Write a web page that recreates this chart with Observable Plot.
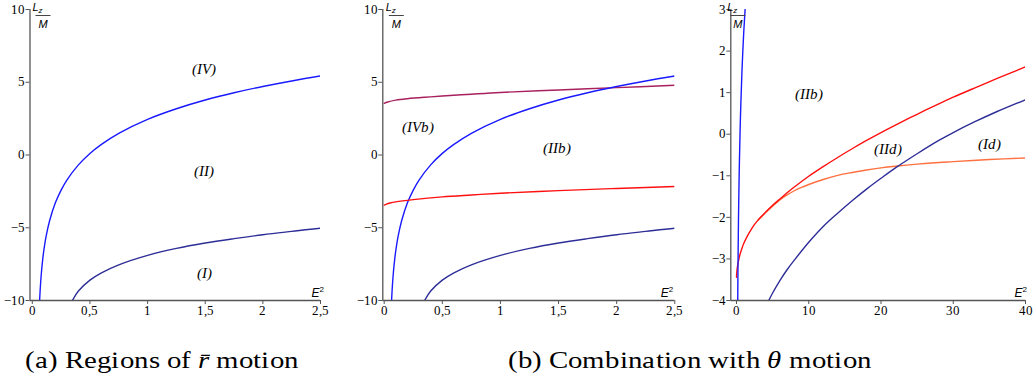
<!DOCTYPE html>
<html><head><meta charset="utf-8">
<script src="https://cdn.jsdelivr.net/npm/d3@7"></script>
<script src="https://cdn.jsdelivr.net/npm/@observablehq/plot@0.6"></script>
<style>
@font-face{font-family:"CapSerif";src:local("Liberation Serif"),local("LiberationSerif"),local("LiberationSerif-Regular");font-style:normal;}
@font-face{font-family:"CapSerif";src:local("Liberation Serif Italic"),local("LiberationSerif-Italic");font-style:italic;}
body{margin:0;background:#fff;}
#wrap{position:relative;width:1034px;height:383px;overflow:hidden;background:#fff;}
.cap{position:absolute;top:348px;font-size:24px;line-height:24px;white-space:nowrap;transform-origin:0 0;transform:scaleX(1.2);color:#000;font-family:CapSerif,"Liberation Serif","Noto Serif",serif;}
</style></head><body>
<div id="wrap">
  <div class="cap" style="left:25px">(a) Regions of <i>r&#772;</i> motion</div>
  <div class="cap" style="left:508px">(b) Combination with <i>θ</i> motion</div>
</div>
<script>
// ---- data ----
const blueE2 = [0.0635, 0.07, 0.08, 0.09, 0.1, 0.12, 0.15, 0.2, 0.25, 0.3, 0.4, 0.5, 0.6, 0.75, 1.0, 1.25, 1.5, 1.75, 2.0, 2.25, 2.5];
const blueLz = [-10, -9.05, -7.99, -7.19, -6.56, -5.58, -4.52, -3.29, -2.41, -1.72, -0.68, 0.11, 0.73, 1.49, 2.45, 3.18, 3.78, 4.28, 4.71, 5.09, 5.43];

const navyE2 = [0.348, 0.4, 0.5, 0.6, 0.75, 1.0, 1.25, 1.5, 1.75, 2.0, 2.25, 2.5, 3, 3.5, 4, 4.47, 5, 6, 7, 8, 10, 12, 14, 16, 18, 20, 22, 25, 28, 30, 33, 36, 40];
const navyLz = [-10, -9.35, -8.6, -8.1, -7.55, -6.9, -6.42, -6.05, -5.75, -5.48, -5.25, -5.03, -4.7, -4.45, -4.2, -4.0, -3.82, -3.52, -3.26, -3.03, -2.6, -2.22, -1.9, -1.6, -1.32, -1.06, -0.81, -0.47, -0.15, 0.04, 0.3, 0.54, 0.83];

const redE2 = [0, 0.02, 0.05, 0.1, 0.25, 0.5, 0.75, 1.0, 1.5, 2.0, 2.5, 3, 4, 5, 6, 7, 8, 10, 12, 14, 16, 18, 20, 22, 25, 28, 30, 33, 36, 40];
const redLz = [-3.44, -3.37, -3.3, -3.22, -3.07, -2.88, -2.75, -2.63, -2.45, -2.3, -2.17, -2.06, -1.88, -1.71, -1.56, -1.41, -1.27, -1.01, -0.78, -0.56, -0.35, -0.15, 0.04, 0.22, 0.48, 0.73, 0.89, 1.115, 1.335, 1.62];

const purpleE2 = [0, 0.03, 0.1, 0.2, 0.35, 0.5, 0.75, 1.0, 1.5, 2.0, 2.5];
const purpleLz = [3.55, 3.64, 3.77, 3.87, 3.97, 4.05, 4.18, 4.3, 4.47, 4.63, 4.79];

const orangeE2 = [3, 4, 5, 6, 7, 8, 9, 10, 12, 14, 16, 18, 20, 22, 25, 28, 30, 35, 40];
const orangeLz = [-2.07, -1.89, -1.73, -1.58, -1.46, -1.36, -1.28, -1.21, -1.09, -0.99, -0.92, -0.86, -0.81, -0.77, -0.72, -0.68, -0.66, -0.61, -0.57];

const ticksA_x = [0, 0.5, 1, 1.5, 2, 2.5];
const ticksA_y = [-10, -5, 0, 5, 10];
const ticksC_x = [0, 10, 20, 30, 40];
const ticksC_y = [-4, -3, -2, -1, 0, 1, 2, 3];

const labels1 = {text: ["(IV)", "(II)", "(I)"], x: [1.49, 1.49, 1.49], y: [5.88, -1.13, -8.14]};
const labels2 = {text: ["(IVb)", "(IIb)"], x: [0.295, 1.49], y: [1.89, 0.45]};
const labels3 = {text: ["(IIb)", "(IId)", "(Id)"], x: [9.97, 20.9, 35.0], y: [0.97, -0.355, -0.23]};

const colBlue = "#1a1aff", colNavy = "#2e2e98", colRed = "#ff1010", colPurple = "#a8205e", colOrange = "#ff7040";

// ---- drawing ----
const serif = "CapSerif, Liberation Serif, Noto Serif, serif";
const sans = "Liberation Sans, Arimo, sans-serif";
const axisColor = "#555";
const fmtX = d => String(d).replace(".", ",");
const fmtY = d => d < 0 ? "\u2212" + Math.abs(d) : String(d);

function lzMark(dx) {
  return (index, scales, values, dims) => {
    const g = d3.create("svg:g").attr("font-family", sans).attr("font-style", "italic").attr("fill", "black");
    const x0 = dims.marginLeft + dx;
    const t = g.append("text").attr("x", x0 + 2).attr("y", 10.5).attr("font-size", 11);
    t.append("tspan").text("L");
    t.append("tspan").attr("font-size", 8).attr("dy", 2.5).text("z");
    g.append("line").attr("x1", x0).attr("x2", x0 + 15).attr("y1", 15.5).attr("y2", 15.5).attr("stroke", "#444").attr("stroke-width", 1);
    g.append("text").attr("x", x0 + 7.5).attr("y", 28).attr("text-anchor", "middle").attr("font-size", 11).text("M");
    return g.node();
  };
}
function e2Mark(dx) {
  return (index, scales, values, dims) => {
    const g = d3.create("svg:g").attr("font-family", sans).attr("fill", "black");
    const xr = dims.width - dims.marginRight + dx;
    const t = g.append("text").attr("x", xr).attr("y", 297).attr("text-anchor", "end").attr("font-size", 12);
    t.append("tspan").attr("font-style", "italic").text("E");
    t.append("tspan").attr("font-size", 8).attr("dy", -5).text("2");
    return g.node();
  };
}

function makePanel(p) {
  const marks = [
    Plot.ruleX([p.xDomain[0]], {stroke: axisColor, strokeWidth: 1.3}),
    Plot.ruleY([p.yDomain[0]], {stroke: axisColor, strokeWidth: 1.3}),
    Plot.axisX(p.xTicks, {anchor: "bottom", tickSize: 4, tickPadding: 1, fontSize: 13, fontFamily: serif, stroke: axisColor, tickFormat: fmtX, label: null}),
    Plot.axisY(p.yTicks, {anchor: "left", tickSize: 4, tickPadding: 1, fontSize: 13, fontFamily: serif, stroke: axisColor, tickFormat: fmtY, label: null}),
    ...p.curves.map(c => Plot.line(c.y, {x: c.x, y: c.y, stroke: c.color, strokeWidth: 1.4, curve: "catmull-rom", clip: true})),
    Plot.text(p.labels.text, {x: p.labels.x, y: p.labels.y, text: p.labels.text, fontFamily: serif, fontStyle: "italic", fontSize: 15, fill: "black"}),
    lzMark(p.lzDx),
    e2Mark(p.e2Dx)
  ];
  const svg = Plot.plot({
    width: p.width, height: 325,
    marginLeft: p.marginLeft, marginRight: p.marginRight, marginTop: 9, marginBottom: 25,
    x: {domain: p.xDomain}, y: {domain: p.yDomain},
    style: {background: "transparent", overflow: "visible", color: "black", fontFamily: serif},
    marks
  });
  svg.style.position = "absolute";
  svg.style.left = p.left + "px";
  svg.style.top = "0px";
  document.getElementById("wrap").append(svg);
}

makePanel({
  left: 0, width: 340, marginLeft: 29.5, marginRight: 20,
  xDomain: [-0.02, 2.5], yDomain: [-10, 10], xTicks: ticksA_x, yTicks: ticksA_y,
  curves: [{x: blueE2, y: blueLz, color: colBlue}, {x: navyE2, y: navyLz, color: colNavy}],
  labels: labels1, lzDx: 6, e2Dx: 4
});
makePanel({
  left: 340, width: 350, marginLeft: 42.3, marginRight: 15.7,
  xDomain: [-0.012, 2.5], yDomain: [-10, 10], xTicks: ticksA_x, yTicks: ticksA_y,
  curves: [{x: purpleE2, y: purpleLz, color: colPurple}, {x: navyE2, y: navyLz, color: colNavy},
           {x: blueE2, y: blueLz, color: colBlue}, {x: redE2, y: redLz, color: colRed}],
  labels: labels2, lzDx: 6.5, e2Dx: -1
});
makePanel({
  left: 690, width: 344, marginLeft: 40.3, marginRight: 9,
  xDomain: [-0.79, 40], yDomain: [-4, 3], xTicks: ticksC_x, yTicks: ticksC_y,
  curves: [{x: orangeE2, y: orangeLz, color: colOrange}, {x: redE2, y: redLz, color: colRed},
           {x: navyE2, y: navyLz, color: colNavy}, {x: blueE2, y: blueLz, color: colBlue}],
  labels: labels3, lzDx: 0, e2Dx: 2
});
</script>
</body></html>
